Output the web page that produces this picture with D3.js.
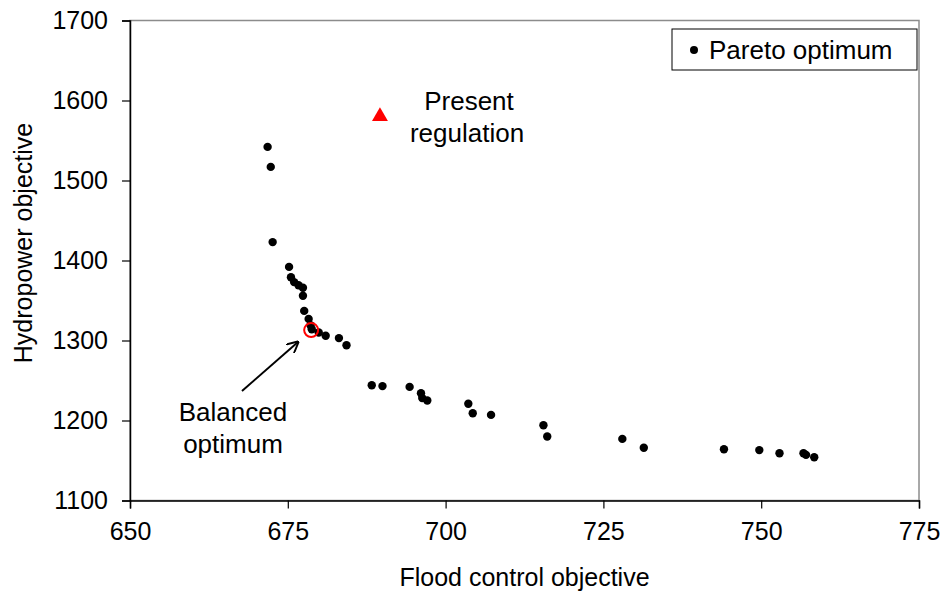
<!DOCTYPE html>
<html>
<head>
<meta charset="utf-8">
<script src="https://cdn.jsdelivr.net/npm/d3@7"></script>
<style>
  body { margin: 0; background: #fff; }
  text { font-family: "Liberation Sans", Arial, sans-serif; fill: #000; }
</style>
</head>
<body>
<div id="chart"></div>
<script>
// values
const floodPareto = [671.8, 672.3, 672.6, 675.2, 675.5, 676.0, 676.7, 677.4, 677.4, 677.6, 678.3, 678.6,
    678.8, 679.9, 681.0, 683.1, 684.3, 688.3, 690.0, 694.3, 696.1, 696.3, 697.1, 703.6, 704.3, 707.2,
    715.5, 716.1, 728.0, 731.4, 744.1, 749.7, 752.9, 756.7, 757.1, 758.4];
const hydroPareto = [1542, 1517, 1423, 1392, 1379, 1373, 1369, 1366, 1356, 1337, 1327, 1319,
    1314, 1310, 1306, 1303, 1294, 1244, 1243, 1242, 1234, 1228, 1225, 1221, 1209, 1207,
    1194, 1180, 1177, 1166, 1164, 1163, 1159, 1159, 1157, 1154];
const presentRegulation = [689.6, 1580];
const balancedOptimum = [678.7, 1313];
const xTicks = [650, 675, 700, 725, 750, 775];
const yTicks = [1100, 1200, 1300, 1400, 1500, 1600, 1700];

const width = 942, height = 597;
const margin = {top: 20.5, right: 23, bottom: 96.5, left: 130};

const svg = d3.select("#chart").append("svg")
    .attr("width", width)
    .attr("height", height);

const x = d3.scaleLinear().domain([650, 775]).range([margin.left, width - margin.right]);
const y = d3.scaleLinear().domain([1100, 1700]).range([height - margin.bottom, margin.top]);

// grey frame on top and right
svg.append("rect")
    .attr("x", x(650))
    .attr("y", y(1700))
    .attr("width", x(775) - x(650))
    .attr("height", y(1100) - y(1700))
    .attr("fill", "none")
    .attr("stroke", "#8c8c8c")
    .attr("stroke-width", 1.5);

const xAxis = svg.append("g")
    .attr("transform", "translate(0," + y(1100) + ")")
    .call(d3.axisBottom(x).tickValues(xTicks).tickSize(8).tickPadding(14).tickFormat(d3.format("d")));
const yAxis = svg.append("g")
    .attr("transform", "translate(" + x(650) + ",0)")
    .call(d3.axisLeft(y).tickValues(yTicks).tickSize(8).tickPadding(14).tickFormat(d3.format("d")));

[xAxis, yAxis].forEach(g => {
    g.select(".domain").attr("stroke", "#000").attr("stroke-width", 1.5);
    g.selectAll(".tick line").attr("stroke", "#000").attr("stroke-width", 1.2);
    g.selectAll(".tick text")
        .style("font-family", "'Liberation Sans', Arial, sans-serif")
        .style("font-size", "25px")
        .attr("fill", "#000");
});
xAxis.selectAll(".tick text").attr("dy", "0.71em");

svg.append("text")
    .attr("x", (x(650) + x(775)) / 2)
    .attr("y", 586)
    .attr("text-anchor", "middle")
    .style("font-size", "25px")
    .text("Flood control objective");

svg.append("text")
    .attr("transform", "translate(32,243)rotate(-90)")
    .attr("text-anchor", "middle")
    .style("font-size", "25px")
    .text("Hydropower objective");

// pareto points
svg.append("g").selectAll("circle")
    .data(floodPareto.map((f, i) => [f, hydroPareto[i]]))
    .enter()
    .append("circle")
    .attr("cx", d => x(d[0]))
    .attr("cy", d => y(d[1]))
    .attr("r", 4.2)
    .attr("fill", "#000");

// balanced optimum marker
svg.append("circle")
    .attr("cx", x(balancedOptimum[0]))
    .attr("cy", y(balancedOptimum[1]))
    .attr("r", 7)
    .attr("fill", "none")
    .attr("stroke", "#ff0000")
    .attr("stroke-width", 2);

// present regulation
svg.append("path")
    .attr("d", d3.symbol().type(d3.symbolTriangle).size(110)())
    .attr("transform", "translate(" + x(presentRegulation[0]) + "," + y(presentRegulation[1]) + ")")
    .attr("fill", "#ff0000");

svg.append("text")
    .attr("x", 469)
    .attr("y", 110)
    .attr("text-anchor", "middle")
    .style("font-size", "26px")
    .text("Present");
svg.append("text")
    .attr("x", 467)
    .attr("y", 142)
    .attr("text-anchor", "middle")
    .style("font-size", "26px")
    .text("regulation");

// arrow to balanced optimum
svg.append("defs").append("marker")
    .attr("id", "arrow")
    .attr("viewBox", "0 0 10 10")
    .attr("refX", 9)
    .attr("refY", 5)
    .attr("markerWidth", 6)
    .attr("markerHeight", 6)
    .attr("orient", "auto")
    .append("path")
    .attr("d", "M0,0L10,5L0,10")
    .attr("fill", "none")
    .attr("stroke", "#000")
    .attr("stroke-width", 1.6);

svg.append("line")
    .attr("x1", 242)
    .attr("y1", 391)
    .attr("x2", 298)
    .attr("y2", 342)
    .attr("stroke", "#000")
    .attr("stroke-width", 2)
    .attr("marker-end", "url(#arrow)");

svg.append("text")
    .attr("x", 233)
    .attr("y", 421)
    .attr("text-anchor", "middle")
    .style("font-size", "26px")
    .text("Balanced");
svg.append("text")
    .attr("x", 233)
    .attr("y", 453)
    .attr("text-anchor", "middle")
    .style("font-size", "26px")
    .text("optimum");

// legend
const legend = svg.append("g");
legend.append("rect")
    .attr("x", 672)
    .attr("y", 29)
    .attr("width", 245)
    .attr("height", 41)
    .attr("fill", "#fff")
    .attr("stroke", "#000")
    .attr("stroke-width", 1);
legend.append("circle")
    .attr("cx", 694)
    .attr("cy", 50)
    .attr("r", 4)
    .attr("fill", "#000");
legend.append("text")
    .attr("x", 709)
    .attr("y", 59)
    .style("font-size", "26px")
    .text("Pareto optimum");
</script>
</body>
</html>
